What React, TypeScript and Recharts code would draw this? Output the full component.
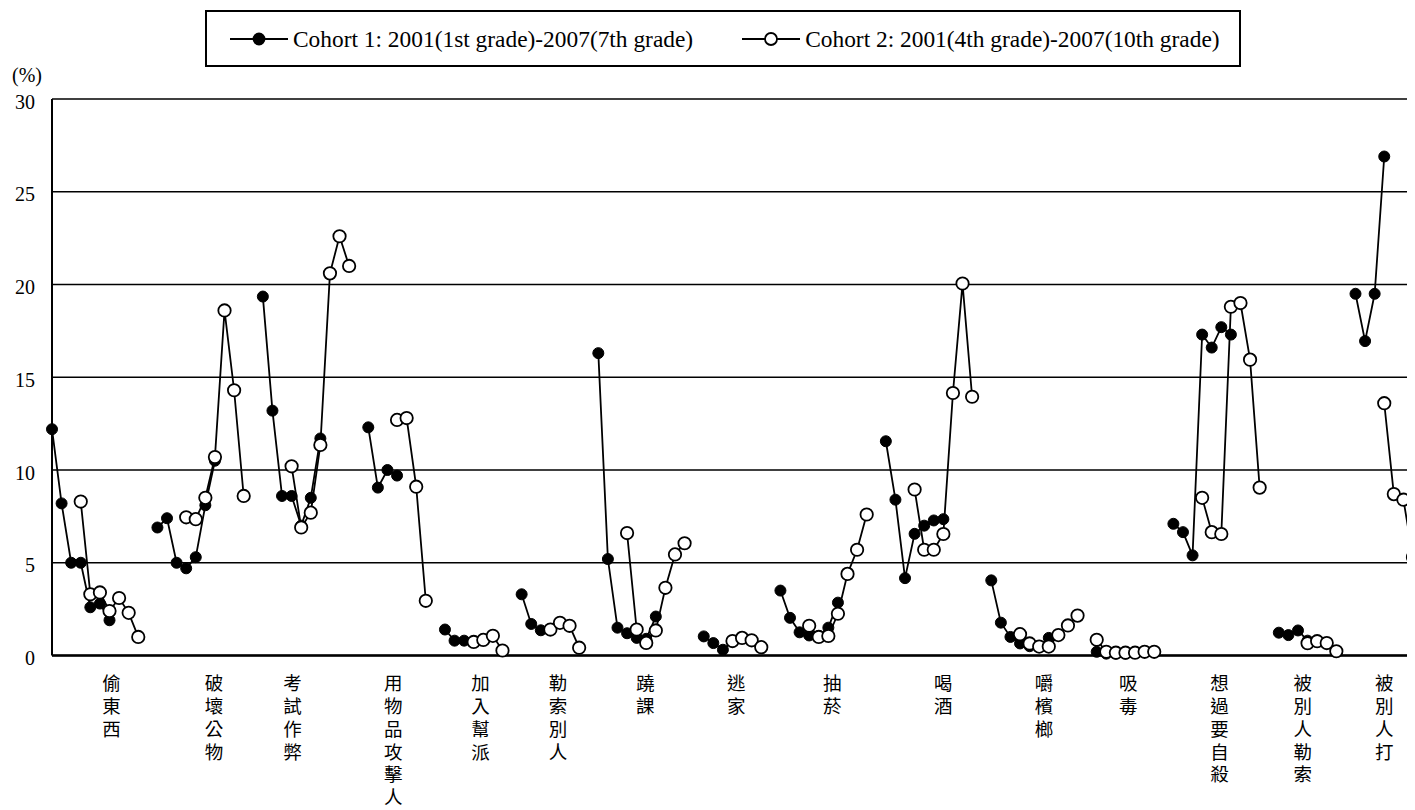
import React from 'react';
import { LineChart, Line, XAxis, YAxis, CartesianGrid, Legend, ReferenceLine } from 'recharts';

if (typeof document !== 'undefined') {
  document.documentElement.style.overflow = 'hidden';
  document.body.style.overflow = 'hidden';
}

const categories = [
  '偷東西', '破壞公物', '考試作弊', '用物品攻擊人', '加入幫派', '勒索別人', '蹺課', '逃家',
  '抽菸', '喝酒', '嚼檳榔', '吸毒', '想過要自殺', '被別人勒索', '被別人打',
];

const seriesNames = [
  'Cohort 1: 2001(1st grade)-2007(7th grade)',
  'Cohort 2: 2001(4th grade)-2007(10th grade)',
];

// Cohort 1 values per category (grade order)
const cohort1Values: number[][] = [
  [12.2, 8.2, 5.0, 5.0, 2.6, 2.8, 1.9],
  [6.9, 7.4, 5.0, 4.7, 5.3, 8.1, 10.5],
  [19.35, 13.2, 8.6, 8.6, 7.0, 8.5, 11.7],
  [12.3, 9.05, 10.0, 9.7],
  [1.4, 0.8, 0.8, 0.75],
  [3.3, 1.7, 1.36, 1.4],
  [16.3, 5.2, 1.5, 1.2, 0.95, 0.9, 2.1],
  [1.03, 0.67, 0.31, 0.75],
  [3.5, 2.03, 1.25, 1.08, 1.05, 1.5, 2.85],
  [11.55, 8.4, 4.17, 6.56, 7.0, 7.28, 7.35],
  [4.05, 1.77, 1.0, 0.65, 0.5, 0.5, 0.95],
  [0.2, 0.1, 0.1, 0.1],
  [7.1, 6.65, 5.4, 17.3, 16.6, 17.7, 17.3],
  [1.23, 1.1, 1.35, 0.8],
  [19.5, 16.95, 19.5, 26.9],
];

// Cohort 2 values per category (grade order)
const cohort2Values: number[][] = [
  [8.3, 3.3, 3.4, 2.4, 3.1, 2.3, 1.0],
  [7.45, 7.35, 8.5, 10.7, 18.6, 14.3, 8.6],
  [10.2, 6.9, 7.7, 11.35, 20.6, 22.6, 21.0],
  [12.7, 12.8, 9.1, 2.95],
  [0.73, 0.84, 1.06, 0.27],
  [1.4, 1.76, 1.6, 0.42],
  [6.6, 1.4, 0.68, 1.35, 3.65, 5.45, 6.05],
  [0.78, 0.95, 0.82, 0.45],
  [1.6, 1.0, 1.05, 2.25, 4.4, 5.7, 7.6],
  [8.95, 5.7, 5.7, 6.55, 14.15, 20.05, 13.95],
  [1.15, 0.65, 0.48, 0.48, 1.1, 1.62, 2.15],
  [0.85, 0.2, 0.15, 0.15, 0.15, 0.2, 0.2],
  [8.5, 6.65, 6.55, 18.8, 19.0, 15.95, 9.05],
  [0.66, 0.77, 0.67, 0.23],
  [13.6, 8.7, 8.4, 5.3],
];

// grade offset of cohort 2 relative to cohort 1 within each category
const cohort2Offset = [3, 3, 3, 3, 3, 3, 3, 3, 3, 3, 3, 0, 3, 3, 3];

// category label positions on the slot axis
const labelAt = [6.2, 16.9, 25.1, 35.6, 44.7, 52.8, 61.9, 71.4, 81.4, 93.0, 103.5, 112.3, 121.8, 130.5, 139.0];

const yTicks = [0, 5, 10, 15, 20, 25, 30];

type Row = { x: number; c1?: number; c2?: number };
const rows: Row[] = [];
let slotStart = 0;
categories.forEach((_, i) => {
  const a = cohort1Values[i];
  const b = cohort2Values[i];
  const off = cohort2Offset[i];
  const span = Math.max(a.length, off + b.length);
  for (let s = 0; s < span; s++) {
    const row: Row = { x: slotStart + s };
    if (s < a.length) row.c1 = a[s];
    if (s >= off && s - off < b.length) row.c2 = b[s - off];
    rows.push(row);
  }
  if (i < categories.length - 1) rows.push({ x: slotStart + span });
  slotStart += span + 1;
});
const lastX = rows[rows.length - 1].x;

const serif = '"Liberation Serif", "Times New Roman", serif';
const cjk = '"Noto Sans CJK TC", "Noto Sans CJK SC", sans-serif';

const YTick = (props: any) => {
  const { x, y, payload } = props;
  return (
    <text x={x} y={y} dy={2.5} textAnchor="end" dominantBaseline="central" fontSize={20} fontFamily={serif} fill="#000">
      {payload.value}
    </text>
  );
};

const CatTick = (props: any) => {
  const { x, y, index } = props;
  const label = categories[index] ?? '';
  return (
    <text
      x={x}
      y={y + 18.5}
      fontSize={18.5}
      fontFamily={cjk}
      fill="#000"
      style={{ writingMode: 'vertical-rl', letterSpacing: '4.3px' } as any}
    >
      {label}
    </text>
  );
};

const renderLegend = (props: any) => {
  const items: string[] = (props && props.payload && props.payload.length ? props.payload.map((p: any) => p.value) : seriesNames);
  return (
    <div
      style={{
        boxSizing: 'border-box', width: 1036, height: 57, border: '2px solid #000', background: '#fff',
        display: 'flex', alignItems: 'center', paddingLeft: 23, fontFamily: serif, fontSize: 23.4, color: '#000',
      }}
    >
      {items.map((n, i) => (
        <div key={n} style={{ display: 'flex', alignItems: 'center', marginLeft: i ? 49 : 0 }}>
          <svg width={58} height={16} style={{ display: 'block' }}>
            <line x1={0} y1={8} x2={58} y2={8} stroke="#000" strokeWidth={2} />
            <circle cx={29} cy={8} r={i ? 6 : 5.5} fill={i ? '#fff' : '#000'} stroke="#000" strokeWidth={1.8} />
          </svg>
          <span style={{ marginLeft: 5, whiteSpace: 'nowrap', lineHeight: '26px' }}>{n}</span>
        </div>
      ))}
    </div>
  );
};

export default function App() {
  return (
    <div style={{ position: 'relative', width: 1407, height: 802 }}>
      <LineChart width={1407} height={802} data={rows} margin={{ top: 91, right: 2, bottom: 0, left: 0 }}>
        <CartesianGrid vertical={false} stroke="#000" strokeWidth={1.6} />
        <XAxis
          type="number"
          dataKey="x"
          domain={[0, lastX]}
          ticks={labelAt}
          interval={0}
          tick={<CatTick />}
          tickLine={false}
          axisLine={false}
          tickSize={0}
          tickMargin={0}
          height={154.5}
          padding={{ left: 0, right: 0 }}
        />
        <YAxis
          type="number"
          domain={[0, 30]}
          ticks={yTicks}
          interval={0}
          width={44}
          tickSize={0}
          tickMargin={17}
          tick={<YTick />}
          tickLine={false}
          axisLine={{ stroke: '#000', strokeWidth: 2 }}
        />
        <ReferenceLine y={0} stroke="#000" strokeWidth={2.4} />
        <Legend
          verticalAlign="middle"
          align="center"
          layout="horizontal"
          wrapperStyle={{ top: 2, left: 197, width: 1036, height: 57 }}
          content={renderLegend}
        />
        <Line
          type="linear"
          dataKey="c1"
          name={seriesNames[0]}
          stroke="#000"
          strokeWidth={1.8}
          dot={{ r: 5.5, fill: '#000', stroke: '#000', strokeWidth: 1 }}
          activeDot={false}
          connectNulls={false}
          isAnimationActive={false}
        />
        <Line
          type="linear"
          dataKey="c2"
          name={seriesNames[1]}
          stroke="#000"
          strokeWidth={1.8}
          dot={{ r: 6.2, fill: '#fff', stroke: '#000', strokeWidth: 1.8 }}
          activeDot={false}
          connectNulls={false}
          isAnimationActive={false}
        />
      </LineChart>
      <div style={{ position: 'absolute', left: 4, top: 56, fontFamily: serif, fontSize: 20, lineHeight: '23px', color: '#000' }}>
        (%)
      </div>
    </div>
  );
}
